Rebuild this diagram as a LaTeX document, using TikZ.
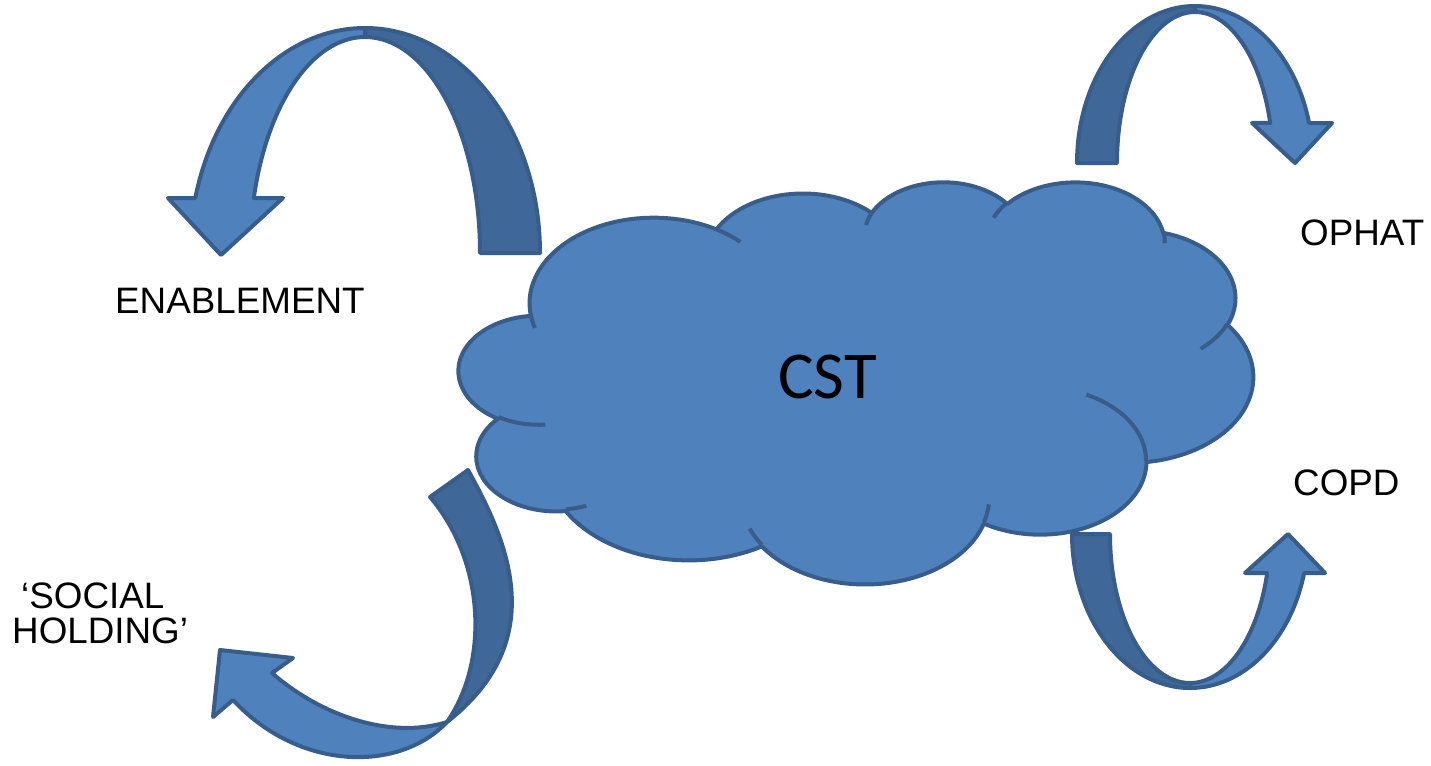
\documentclass[tikz,border=0pt]{standalone}
\usepackage{fontspec}
\setmainfont{Liberation Sans}
\newfontfamily\cstfont{Carlito}
\definecolor{cloudfill}{HTML}{4F81BD}
\definecolor{darkband}{HTML}{3F6797}
\definecolor{edgeblue}{HTML}{385D8A}
\tikzset{
  shapeedge/.style={draw=edgeblue, line width=4pt, line join=round},
  lightpart/.style={shapeedge, fill=cloudfill},
  darkpart/.style={shapeedge, fill=darkband},
  lbl/.style={font=\fontsize{36.8}{36.8}\selectfont, inner sep=0pt, anchor=base west},
}
% DrawingML-style arc: visual angles -> parametric angles
\newcommand\cldang[5]{%
  \pgfmathsetmacro\cldtmpa{atan2((#2)*sin(#4),(#3)*cos(#4))}%
  \pgfmathsetmacro\cldtmpb{atan2((#2)*sin(#4+#5),(#3)*cos(#4+#5))}%
  \pgfmathsetmacro\cldtmpb{\cldtmpb<\cldtmpa ? \cldtmpb+360 : \cldtmpb}%
  \expandafter\xdef\csname cld#1s\endcsname{\cldtmpa}%
  \expandafter\xdef\csname cld#1e\endcsname{\cldtmpb}%
}
\newcommand\carc[3]{arc[start angle=\csname cld#1s\endcsname, end angle=\csname cld#1e\endcsname, x radius=#2, y radius=#3]}
\begin{document}
\begin{tikzpicture}[x=1pt,y=-1pt]
\useasboundingbox (0,0) rectangle (1431,765);
% outline arcs
\cldang{A}{6.753}{9.190}{-190.4875}{123.7805}
\cldang{B}{5.333}{7.267}{-144.1024}{89.9452}
\cldang{C}{4.365}{5.945}{-145.8079}{99.7230}
\cldang{D}{4.857}{6.595}{-130.9861}{117.2417}
\cldang{E}{5.333}{7.273}{-78.7089}{109.0269}
\cldang{F}{6.775}{9.220}{-46.2673}{130.2690}
\cldang{G}{5.785}{7.867}{0.6250}{114.0333}
\cldang{H}{6.752}{9.215}{22.4516}{115.1726}
\cldang{I}{7.720}{10.543}{66.2426}{75.7110}
\cldang{J}{4.360}{5.918}{-274.9421}{146.7356}
\cldang{K}{4.345}{5.945}{-246.8285}{152.5189}
% inner tails
\cldang{a}{4.345}{5.945}{86.7420}{26.4295}
\cldang{b}{4.360}{5.918}{73.6105}{11.4475}
\cldang{c}{6.752}{9.215}{137.6242}{14.0811}
\cldang{d}{6.752}{9.215}{6.4533}{15.9984}
\cldang{e}{5.785}{7.867}{-70.2924}{70.9174}
\cldang{f}{5.333}{7.273}{30.3180}{27.7515}
\cldang{g}{4.857}{6.595}{-13.7443}{14.8589}
\cldang{h}{4.857}{6.595}{-149.1815}{18.1954}
\cldang{i}{4.365}{5.945}{-163.4943}{17.6864}
\cldang{j}{6.753}{9.190}{-66.7070}{12.3194}
\cldang{k}{6.753}{9.190}{157.6544}{11.8582}

% cloud
\begin{scope}[xshift=459pt, yshift=-181pt, x=18.3796pt, y=-9.3056pt]
\draw[lightpart] (3.900,14.370) \carc{A}{6.753}{9.190} \carc{B}{5.333}{7.267}
  \carc{C}{4.365}{5.945} \carc{D}{4.857}{6.595} \carc{E}{5.333}{7.273}
  \carc{F}{6.775}{9.220} \carc{G}{5.785}{7.867} \carc{H}{6.752}{9.215}
  \carc{I}{7.720}{10.543} \carc{J}{4.360}{5.918} \carc{K}{4.345}{5.945} -- cycle;
\draw[shapeedge, line cap=butt]
  (4.693,26.177) \carc{a}{4.345}{5.945}
  (6.928,34.899) \carc{b}{4.360}{5.918}
  (16.478,39.090) \carc{c}{6.752}{9.215}
  (28.827,34.751) \carc{d}{6.752}{9.215}
  (34.129,22.954) \carc{e}{5.785}{7.867}
  (41.798,15.354) \carc{f}{5.333}{7.273}
  (38.324,5.426) \carc{g}{4.857}{6.595}
  (29.078,3.952) \carc{h}{4.857}{6.595}
  (22.141,4.720) \carc{i}{4.365}{5.945}
  (14.000,5.192) \carc{j}{6.753}{9.190}
  (4.127,15.789) \carc{k}{6.753}{9.190};
\end{scope}
\node[font=\cstfont\fontsize{67}{67}\selectfont, inner sep=0pt, anchor=base] (cst) at (827.5,398) {CST};

% arrow ENABLEMENT (top left)
\draw[darkpart] (540,253) arc[start angle=0, end angle=-90, x radius=175, y radius=225]
  -- (365,37) arc[start angle=-90, end angle=0, x radius=115, y radius=216] -- cycle;
\draw[lightpart] (365,28) arc[start angle=-90, end angle=-165.85, x radius=175, y radius=225]
  -- (168,198) -- (221,255) -- (283,198) -- (253.8,198)
  arc[start angle=-165.25, end angle=-90, x radius=115, y radius=216] -- cycle;

% arrow OPHAT (top right)
\draw[darkpart] (1077,163) arc[start angle=180, end angle=270, x radius=118, y radius=157]
  -- (1195,12) arc[start angle=270, end angle=180, x radius=78, y radius=151] -- cycle;
\draw[lightpart] (1195,6) arc[start angle=270, end angle=345.24, x radius=118, y radius=157]
  -- (1332,123) -- (1295,163) -- (1252,123) -- (1270.2,123)
  arc[start angle=344.64, end angle=270, x radius=78, y radius=151] -- cycle;

% arrow COPD (bottom right)
\draw[darkpart] (1072,534) arc[start angle=180, end angle=90, x radius=118, y radius=154]
  -- (1190,683) arc[start angle=90, end angle=180, x radius=80, y radius=149] -- cycle;
\draw[lightpart] (1190,688) arc[start angle=90, end angle=14.67, x radius=118, y radius=154]
  -- (1325,573) -- (1288,534) -- (1245,573) -- (1267.2,573)
  arc[start angle=15.17, end angle=90, x radius=80, y radius=149] -- cycle;

% arrow SOCIAL HOLDING (bottom left)
\draw[darkpart] (430,497) -- (468,470) .. controls (507,540) and (552,640) .. (447,722)
  .. controls (490,660) and (484,560) .. (430,497) -- cycle;
\draw[lightpart] (447,722) .. controls (400,772) and (300,772) .. (233,700)
  -- (213,717) -- (220,650) -- (293,658) -- (272,673)
  .. controls (320,715) and (390,740) .. (447,722) -- cycle;

% labels
\node[lbl] (enab) at (115,313) {ENABLEMENT};
\node[lbl] (ophat) at (1300,245) {OPHAT};
\node[lbl] (copd) at (1293,495) {COPD};
\node[lbl] (soc1) at (21,608) {‘SOCIAL};
\node[lbl] (soc2) at (12,643) {HOLDING’};
\end{tikzpicture}
\end{document}
